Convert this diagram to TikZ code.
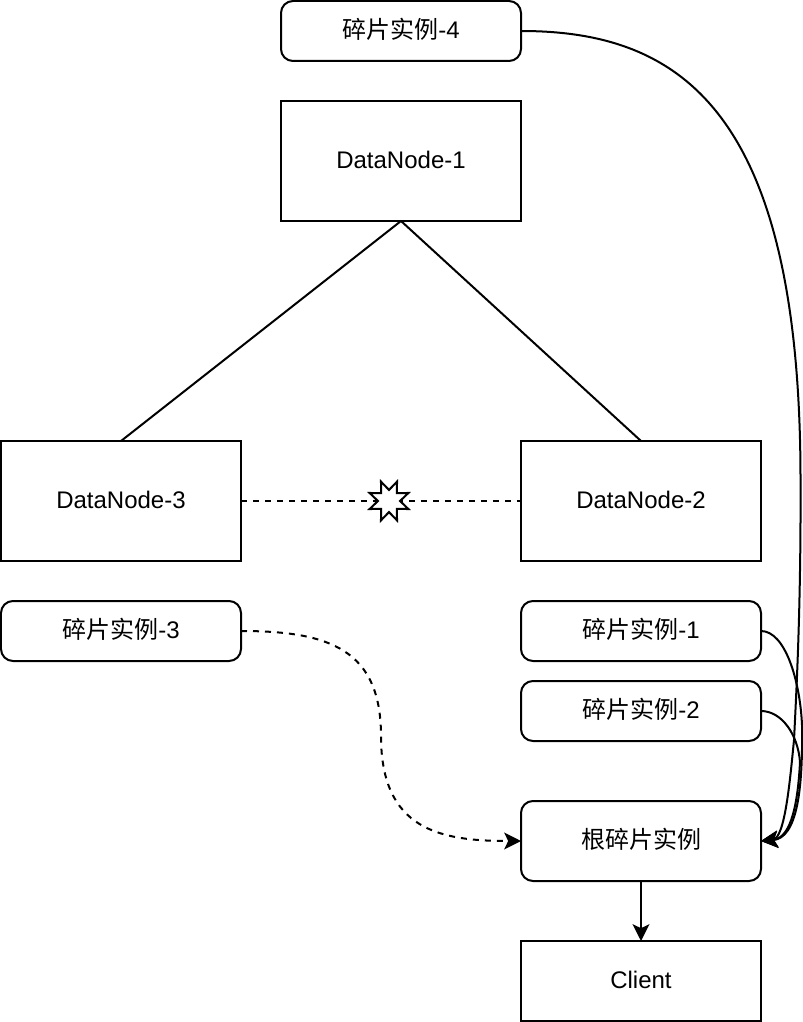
\documentclass[tikz,border=0pt]{standalone}
\usepackage{fontspec}
\setmainfont{Liberation Sans}
\newfontfamily\cjk{Noto Sans CJK SC}
\usetikzlibrary{shapes.geometric,arrows.meta}

\tikzset{
    nodebox/.style={draw, line width=0.05cm, outer sep=0pt, minimum width=6cm, minimum height=3cm, text height=0.5cm, text depth=0.12cm},
    shard/.style={draw, line width=0.05cm, outer sep=0pt, rounded corners=0.3cm, minimum width=6cm, minimum height=1.5cm, text height=0.5cm, text depth=0.12cm},
    link/.style={line width=0.05cm},
    flow/.style={line width=0.05cm, -{Stealth[length=0.42cm, width=0.42cm, inset=0.1cm]}},
    dashline/.style={dash pattern=on 0.15cm off 0.15cm}
}

\begin{document}
\begin{tikzpicture}[font=\fontsize{17.07}{20}\selectfont]
    \useasboundingbox (0,0) rectangle (20.05,-25.55);

    % Data nodes
    \node[nodebox] (dn1) at (10.025,-4.025) {DataNode-1};
    \node[nodebox] (dn3) at (3.025,-12.525) {DataNode-3};
    \node[nodebox] (dn2) at (16.025,-12.525) {DataNode-2};
    \node[nodebox, minimum height=2cm] (client) at (16.025,-24.525) {Client};

    % Shard instances
    \node[shard] (inst4) at (10.025,-0.775) {{\cjk 碎片实例}-4};
    \node[shard] (inst3) at (3.025,-15.775) {{\cjk 碎片实例}-3};
    \node[shard] (inst1) at (16.025,-15.775) {{\cjk 碎片实例}-1};
    \node[shard] (inst2) at (16.025,-17.775) {{\cjk 碎片实例}-2};
    \node[shard, minimum height=2cm] (root) at (16.025,-21.025) {{\cjk 根碎片实例}};

    % Network links
    \draw[link] (dn1.south) -- (dn3.north);
    \draw[link] (dn1.south) -- (dn2.north);
    \draw[link, dashline] (dn3.east) -- (dn2.west);

    % Partition mark
    \node[star, star points=8, star point ratio=1.9, rotate=22.5, draw, fill=white,
        line width=0.05cm, inner sep=0pt, outer sep=0pt, minimum size=1.05cm] (cut) at (9.725,-12.525) {};

    % Results to the root
    \draw[flow] (inst4.east) .. controls (17,-0.775) and (20.0125,-2.75) .. (20.0125,-12)
        .. controls (20.025,-15) and (19.925,-17) .. (19.85,-18.5)
        .. controls (19.75,-19.5) and (19.625,-20.95) .. (root.east);
    \draw[flow] (inst1.east) .. controls (19.625,-15.775) and (20,-17) .. (20.05,-18.125)
        .. controls (20.075,-19.75) and (19.925,-20.95) .. (root.east);
    \draw[flow] (inst2.east) .. controls (19.55,-17.775) and (19.95,-18.375) .. (20,-19.05)
        .. controls (19.95,-20) and (19.8,-20.95) .. (root.east);
    \draw[flow, dashline] (inst3.east) .. controls (8.25,-15.775) and (9.525,-16.25) .. (9.525,-18.4)
        .. controls (9.525,-20.75) and (11,-21.025) .. (root.west);
    \draw[flow] (root.south) -- (client.north);
\end{tikzpicture}
\end{document}
